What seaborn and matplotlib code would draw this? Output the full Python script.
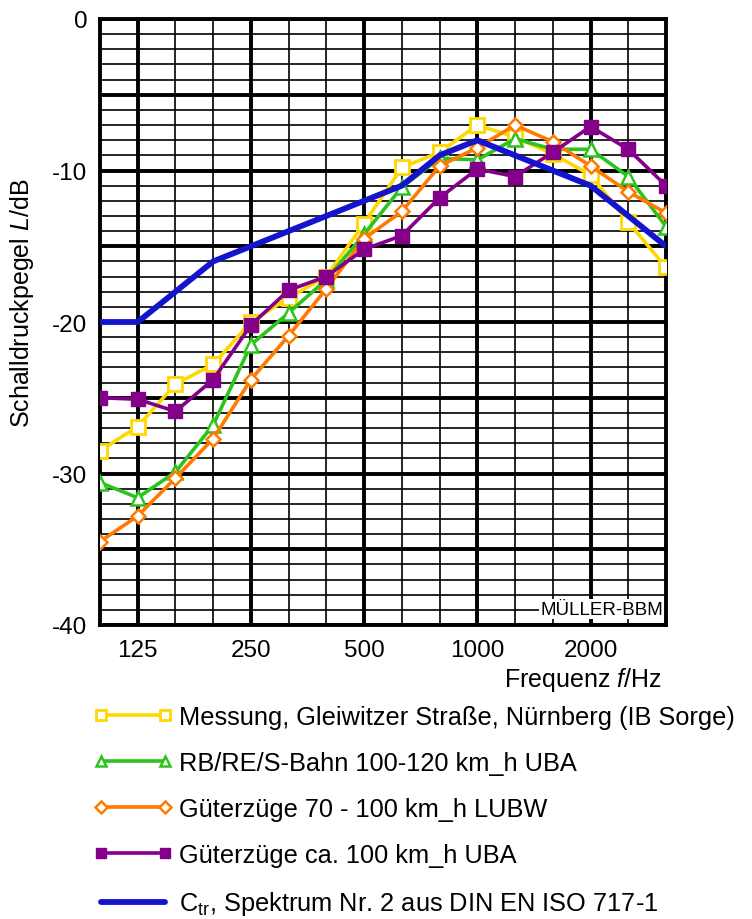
import numpy as np
import pandas as pd
import matplotlib
matplotlib.use("Agg")
import matplotlib.pyplot as plt
import seaborn as sns

# ---- data (third-octave bands) ----
freqs = [100, 125, 160, 200, 250, 315, 400, 500, 630, 800, 1000, 1250, 1600, 2000, 2500, 3150]
tick_freqs = [125, 250, 500, 1000, 2000]
y_ticks = [0, -10, -20, -30, -40]
messung = [-28.5, -26.9, -24.1, -22.8, -20.0, -18.4, -17.0, -13.5, -9.8, -8.8, -7.0, -7.8, -8.9, -10.3, -13.4, -16.4]
rb_bahn = [-30.6, -31.6, -29.9, -26.8, -21.5, -19.4, -17.2, -14.2, -11.1, -9.2, -9.3, -7.9, -8.6, -8.6, -10.4, -13.7]
gz_lubw = [-34.5, -32.8, -30.3, -27.7, -23.8, -20.9, -17.8, -14.5, -12.7, -9.7, -8.5, -7.0, -8.1, -9.7, -11.4, -12.8]
gz_uba = [-25.0, -25.1, -25.9, -23.8, -20.2, -17.9, -17.0, -15.2, -14.3, -11.8, -9.9, -10.4, -8.8, -7.1, -8.6, -11.0]
ctr = [-20, -20, -18, -16, -15, -14, -13, -12, -11, -9, -8, -9, -10, -11, -13, -15]

labels = [
    "Messung, Gleiwitzer Straße, Nürnberg (IB Sorge)",
    "RB/RE/S-Bahn 100-120 km_h UBA",
    "Güterzüge 70 - 100 km_h LUBW",
    "Güterzüge ca. 100 km_h UBA",
    r"C$_{\mathregular{tr}}$, Spektrum Nr. 2 aus DIN EN ISO 717-1",
]

sns.set_style("white")
plt.rcParams["font.family"] = ["Liberation Sans", "DejaVu Sans"]
plt.rcParams["mathtext.fontset"] = "custom"
plt.rcParams["mathtext.rm"] = "Liberation Sans"
plt.rcParams["mathtext.it"] = "Liberation Sans:italic"
plt.rcParams["text.color"] = "black"
plt.rcParams["xtick.color"] = "black"
plt.rcParams["ytick.color"] = "black"
plt.rcParams["axes.labelcolor"] = "black"

FS = 17.5
LFS = 18.3
fig = plt.figure(figsize=(7.52, 9.2), dpi=100)
ax = fig.add_axes([100 / 752, 1 - 626 / 920, 566 / 752, 606 / 920])

x = np.arange(len(freqs))
df = pd.DataFrame({"band": x, "messung": messung, "rb": rb_bahn,
                   "lubw": gz_lubw, "uba": gz_uba, "ctr": ctr})

yellow = "#FFD800"
green = "#2CC41C"
orange = "#FF7A00"
purple = "#85008A"
blue = "#1414CC"

sns.lineplot(data=df, x="band", y="messung", ax=ax, color=yellow, lw=2.6,
             marker="s", markersize=9.5, markerfacecolor="white",
             markeredgecolor=yellow, markeredgewidth=2, label=labels[0], zorder=5)
sns.lineplot(data=df, x="band", y="rb", ax=ax, color=green, lw=2.6,
             marker="^", markersize=10, markerfacecolor="white",
             markeredgecolor=green, markeredgewidth=1.8, label=labels[1], zorder=5)
sns.lineplot(data=df, x="band", y="lubw", ax=ax, color=orange, lw=2.6,
             marker="D", markersize=7.5, markerfacecolor="white",
             markeredgecolor=orange, markeredgewidth=1.8, label=labels[2], zorder=6)
sns.lineplot(data=df, x="band", y="uba", ax=ax, color=purple, lw=2.6,
             marker="s", markersize=9.5, markerfacecolor=purple,
             markeredgecolor=purple, markeredgewidth=1, label=labels[3], zorder=6)
sns.lineplot(data=df, x="band", y="ctr", ax=ax, color=blue, lw=4.2,
             label=labels[4], zorder=7)

# axes limits and grid
ax.set_xlim(0, len(freqs) - 1)
ax.set_ylim(-40, 0)
major_x = [freqs.index(f) for f in tick_freqs]
ax.set_xticks(major_x)
ax.set_xticklabels([str(f) for f in tick_freqs], fontsize=FS)
ax.set_xticks(x, minor=True)
ax.set_yticks(np.arange(-40, 1, 5))
ax.set_yticklabels([str(v) if v in y_ticks else "" for v in np.arange(-40, 1, 5)], fontsize=FS)
ax.set_yticks(np.arange(-40, 1, 1), minor=True)
ax.grid(which="major", color="black", lw=2.8, zorder=1)
ax.grid(which="minor", color="black", lw=1.2, zorder=0)
ax.set_axisbelow(True)
ax.tick_params(which="both", length=0)
ax.tick_params(axis="x", pad=10)
ax.tick_params(axis="y", pad=9)
for s in ax.spines.values():
    s.set_linewidth(2.8)
    s.set_color("black")
ax.set_xlabel("")
ax.set_ylabel("")

ax.text(0.995, 0.012, "MÜLLER-BBM", transform=ax.transAxes, ha="right", va="bottom",
        fontsize=13.5, color="black", zorder=8,
        bbox=dict(facecolor="white", edgecolor="none", pad=1.0))

fig.text(22 / 752, 1 - 303 / 920, r"Schalldruckpegel $\mathit{L}$/dB", rotation=90,
         ha="center", va="center", fontsize=18)
fig.text(662 / 752, 1 - 680 / 920, r"Frequenz $\mathit{f}$/Hz", ha="right", va="center",
         fontsize=18)

handles, labs = ax.get_legend_handles_labels()
leg = ax.legend(handles, labs, loc="upper left", bbox_to_anchor=(93 / 752, 1 - 706 / 920),
                bbox_transform=fig.transFigure, frameon=False, fontsize=LFS,
                numpoints=2, handlelength=3.15, handletextpad=0.22, labelspacing=0.87,
                markerscale=0.75, borderpad=0, borderaxespad=0)

fig.savefig("out.png", dpi=100)
